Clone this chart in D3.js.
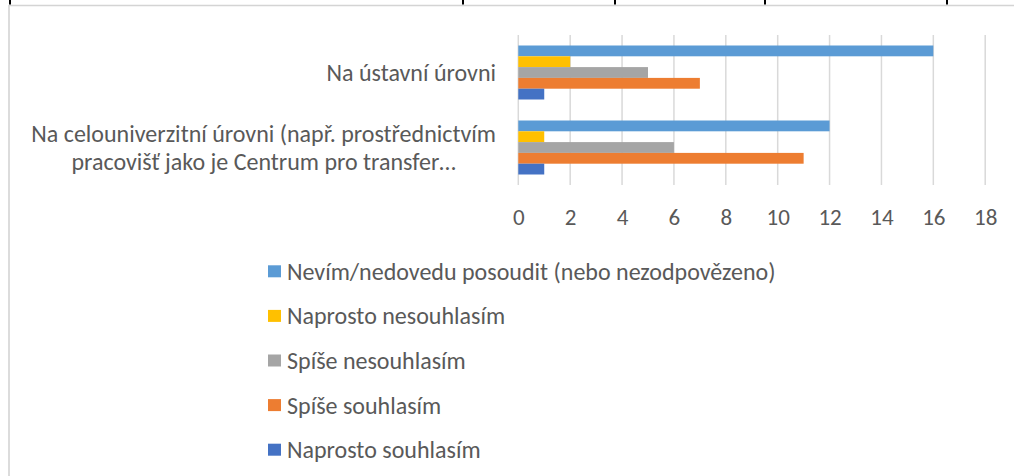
<!DOCTYPE html>
<html>
<head>
<meta charset="utf-8">
<script src="https://cdn.jsdelivr.net/npm/d3@7"></script>
<style>
  html, body { margin: 0; padding: 0; background: #fff; }
  svg { display: block; }
  text { font-family: Carlito, Calibri, Lato, "Open Sans", sans-serif; fill: #595959; }
</style>
</head>
<body>
<svg id="chart" width="1014" height="476"></svg>
<script>
// Categories (top to bottom) and the series, listed in the order the bars stack inside a group
const categories = [
  ["Na ústavní úrovni"],
  ["Na celouniverzitní úrovni (např. prostřednictvím", "pracovišť jako je Centrum pro transfer…"]
];
const categoryKeys = ["ustavni", "celouniverzitni"];
const seriesNames = [
  "Nevím/nedovedu posoudit (nebo nezodpovězeno)",
  "Naprosto nesouhlasím",
  "Spíše nesouhlasím",
  "Spíše souhlasím",
  "Naprosto souhlasím"
];
const seriesColors = ["#5B9BD5", "#FFC000", "#A5A5A5", "#ED7D31", "#4472C4"];
// values per series: [Na ústavní úrovni, Na celouniverzitní úrovni]
const nevim = [16, 12];
const naprostoNesouhlasim = [2, 1];
const spiseNesouhlasim = [5, 6];
const spiseSouhlasim = [7, 11];
const naprostoSouhlasim = [1, 1];
const seriesValues = [nevim, naprostoNesouhlasim, spiseNesouhlasim, spiseSouhlasim, naprostoSouhlasim];
const xTicks = [0, 2, 4, 6, 8, 10, 12, 14, 16, 18];
// column separators of the surrounding table row
const tableTicks = [10, 463, 615, 765, 947];

const svg = d3.select("#chart");

// frame of the table cell holding the chart
svg.append("line").attr("x1", 9).attr("x2", 1014).attr("y1", 5.5).attr("y2", 5.5)
  .attr("stroke", "#d4d4d4").attr("stroke-width", 1.6);
svg.append("line").attr("x1", 9).attr("x2", 9).attr("y1", 5).attr("y2", 476)
  .attr("stroke", "#d4d4d4").attr("stroke-width", 1.6);
svg.selectAll("line.sep").data(tableTicks).join("line").attr("class", "sep")
  .attr("x1", d => d).attr("x2", d => d).attr("y1", 0).attr("y2", 4.5)
  .attr("stroke", "#000").attr("stroke-width", 2);

const x = d3.scaleLinear().domain([0, 18]).range([518.3, 985.2]);
const y = d3.scaleBand().domain(categoryKeys).range([35, 185])
  .paddingInner(0.28).paddingOuter(0.14);
const ySub = d3.scaleBand().domain(d3.range(seriesNames.length)).range([0, y.bandwidth()]);

// vertical gridlines
svg.append("g").selectAll("line").data(xTicks).join("line")
  .attr("x1", d => x(d)).attr("x2", d => x(d))
  .attr("y1", 35).attr("y2", 185)
  .attr("stroke", "#d9d9d9").attr("stroke-width", 1.5);

// bars
const groups = svg.append("g").selectAll("g").data(categoryKeys).join("g")
  .attr("transform", k => `translate(0,${y(k)})`);
groups.selectAll("rect")
  .data((k, ci) => seriesValues.map((vals, si) => ({ si, v: vals[ci] })))
  .join("rect")
  .attr("x", x(0))
  .attr("y", d => ySub(d.si))
  .attr("width", d => x(d.v) - x(0))
  .attr("height", ySub.bandwidth())
  .attr("fill", d => seriesColors[d.si]);

// x axis tick labels
const xAxis = d3.axisBottom(x).tickValues(xTicks).tickSize(0).tickPadding(0);
const ax = svg.append("g").attr("transform", "translate(0,207)").call(xAxis);
ax.select(".domain").remove();
ax.selectAll("text").attr("font-size", 23).attr("dy", "0.78em")
  .attr("font-family", null).attr("fill", "#595959");

// category labels: lines centred on each other, block right-aligned to the axis
const labelRight = 496;
const lineH = 28;
categoryKeys.forEach((k, i) => {
  const lines = categories[i];
  const g = svg.append("g");
  const texts = g.selectAll("text").data(lines).join("text")
    .attr("font-size", 24)
    .attr("text-anchor", "middle")
    .attr("dy", "0.35em")
    .text(d => d);
  const maxW = d3.max(texts.nodes(), n => n.getComputedTextLength());
  const cy = y(k) + y.bandwidth() / 2;
  texts.attr("x", labelRight - maxW / 2)
    .attr("y", (d, j) => cy + (j - (lines.length - 1) / 2) * lineH);
});

// legend
const legendY = d3.scaleBand().domain(d3.range(seriesNames.length)).range([249, 472]);
const leg = svg.append("g").selectAll("g").data(seriesNames).join("g")
  .attr("transform", (d, i) => `translate(268,${legendY(i) + legendY.bandwidth() / 2})`);
leg.append("rect").attr("x", 0).attr("y", -6).attr("width", 13).attr("height", 12)
  .attr("fill", (d, i) => seriesColors[i]);
leg.append("text").attr("x", 19).attr("dy", "0.35em").attr("font-size", 24).text(d => d);
</script>
</body>
</html>
